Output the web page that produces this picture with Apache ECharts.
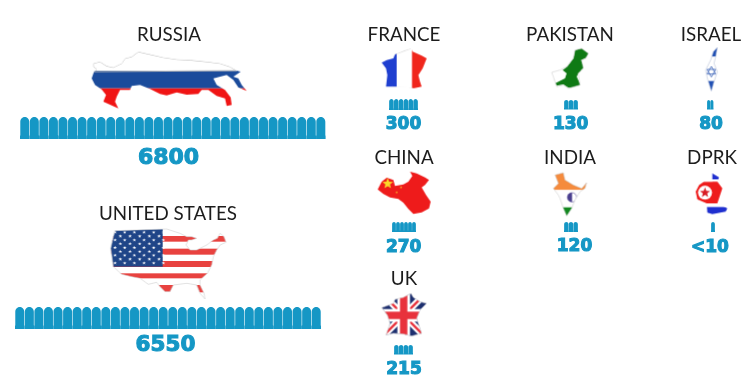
<!DOCTYPE html>
<html><head><meta charset="utf-8">
<style>html,body{margin:0;padding:0;background:#fff}#c{width:754px;height:391px}</style>
<script src="https://cdn.jsdelivr.net/npm/echarts@6/dist/echarts.min.js"></script>
</head><body><div id="c"></div>
<script>
var countries=['RUSSIA','UNITED STATES','FRANCE','CHINA','UK','PAKISTAN','INDIA','ISRAEL','DPRK'];
var warheadLabels=['6800','6550','300','270','215','130','120','80','<10'];
var iconCounts=[32,32,6,6,4,3,3,2,1];
var iconColor='#1597c5';
var rocket='path://M0,100 L0,88 L3,82 L3,22 C3,8 28,0 50,0 C72,0 97,8 97,22 L97,82 L100,88 L100,100 Z';

// layout: name centre, icon row box [x,y,w,h], number centre, number size
var layout=[
 {nx:169,ny:34.5,box:[20,117,305.6,22],vx:168.5,vy:158.5,vs:22},
 {nx:168,ny:213.5,box:[15,307,306,22],vx:165.5,vy:345,vs:21.5},
 {nx:404,ny:34.5,box:[389,99,29,11],vx:403.5,vy:125,vs:17},
 {nx:404,ny:157.5,box:[392,222,24,10],vx:403.7,vy:248,vs:17},
 {nx:404,ny:278.5,box:[394,345,19,9.5],vx:404,vy:370,vs:17},
 {nx:570,ny:34.5,box:[564,100,14,9.5],vx:570.7,vy:125,vs:17},
 {nx:570,ny:157.5,box:[564,222,14,10],vx:574.5,vy:246.5,vs:17},
 {nx:711,ny:34.5,box:[707,100,6.5,9.5],vx:711,vy:125,vs:17},
 {nx:712,ny:157.5,box:[711,222,4,10],vx:710,vy:248,vs:17}
];

// flag-in-outline artwork, traced in 3x crop units
function poly(c,p){c.beginPath();p.forEach(function(q,i){i?c.lineTo(q[0],q[1]):c.moveTo(q[0],q[1]);});c.closePath();}
function star(c,x,y,r,col,rot){c.beginPath();for(var i=0;i<10;i++){var a=-Math.PI/2+(rot||0)+i*Math.PI/5,R=i%2?r*0.42:r;c.lineTo(x+R*Math.cos(a),y+R*Math.sin(a));}c.closePath();c.fillStyle=col;c.fill();}
function bands(c,list){list.forEach(function(b){c.fillStyle=b[4];c.fillRect(b[0],b[1],b[2],b[3]);});}
function art(ox,oy,outline,paint,edge){
  var xs=outline.map(function(p){return p[0]}),ys=outline.map(function(p){return p[1]});
  var x0=Math.min.apply(0,xs)-6,y0=Math.min.apply(0,ys)-6,x1=Math.max.apply(0,xs)+6,y1=Math.max.apply(0,ys)+6;
  var w=Math.ceil((x1-x0)/3),h=Math.ceil((y1-y0)/3);
  var cv=document.createElement('canvas');cv.width=w;cv.height=h;
  var c=cv.getContext('2d');
  c.filter='blur(0.45px)';
  c.scale(1/3,1/3);c.translate(-x0,-y0);
  c.save();poly(c,outline);c.clip();paint(c,x0,y0,x1,y1);c.restore();
  if(edge){poly(c,outline);c.strokeStyle=edge;c.lineWidth=1.8;c.stroke();}
  return {type:'image',x:ox+x0/3,y:oy+y0/3,z:5,style:{image:cv,width:w,height:h}};
}
var maps=[
 art(0,10,[[280,160],[300,155],[320,168],[340,172],[365,160],[375,145],[395,140],[415,125],[445,132],[490,142],[530,148],[570,150],[620,155],[660,160],[690,170],[710,182],[722,185],[700,200],[715,205],[725,225],[740,243],[715,232],[700,210],[680,195],[640,205],[650,225],[675,240],[692,262],[695,285],[680,288],[675,265],[650,258],[625,240],[605,240],[595,252],[560,254],[530,247],[500,256],[480,252],[450,237],[420,225],[395,228],[390,240],[360,240],[350,260],[345,275],[355,295],[325,282],[310,275],[318,255],[305,238],[285,225],[275,205],[282,185],[290,178],[280,170]],
 function(c,x,y,X,Y){bands(c,[[x,y,X-x,182-y,'#fff'],[x,182,X-x,53,'#1b4b9b'],[x,235,X-x,Y-235,'#f01414']]);
   c.strokeStyle='#b9b9b9';c.lineWidth=3;poly(c,[[280,160],[300,155],[320,168],[340,172],[365,160],[375,145],[395,140],[415,125],[445,132],[490,142],[530,148],[570,150],[620,155],[660,160],[690,170],[710,182],[282,185],[290,178],[280,170]]);c.stroke();}),
 art(0,195,[[345,107],[500,102],[540,115],[560,125],[575,125],[590,130],[575,135],[565,135],[558,150],[570,165],[590,165],[620,150],[640,135],[652,130],[660,115],[672,125],[678,142],[660,150],[650,165],[640,185],[635,210],[622,235],[600,255],[600,270],[612,295],[615,312],[600,295],[590,270],[560,265],[520,270],[510,290],[495,290],[480,275],[470,262],[445,268],[420,250],[395,245],[365,238],[340,215],[335,180],[332,160],[340,125]],
 function(c,x,y,X,Y){c.fillStyle='#fff';c.fillRect(x,y,X-x,Y-y);c.fillStyle='#e8423f';
   [[123,17],[161,18],[198,18],[235,15],[270,22]].forEach(function(b){c.fillRect(x,b[0],X-x,b[1]);});
   c.fillStyle='#1f4588';c.fillRect(x,y,488-x,215-y);
   for(var r=0;r<9;r++){for(var i=0;i<(r%2?5:6);i++){star(c,(r%2?361:345)+i*29,112+r*11.5,5.5,'#fff');}}
 },'#cfcfcf'),
 art(350,15,[[95,143],[110,135],[130,130],[135,118],[160,107],[183,100],[188,110],[215,122],[230,130],[218,160],[205,180],[210,200],[215,215],[190,220],[165,215],[125,215],[108,215],[112,180],[108,160]],
 function(c,x,y,X,Y){bands(c,[[x,y,140-x,Y-y,'#1f3fd0'],[140,y,46,Y-y,'#fff'],[186,y,X-186,Y-y,'#f0261c']]);c.strokeStyle='#ccc';c.lineWidth=2;c.beginPath();c.moveTo(135,118);c.lineTo(183,100);c.moveTo(125,215);c.lineTo(190,220);c.stroke();}),
 art(350,140,[[83,148],[95,125],[110,113],[130,120],[135,138],[160,133],[175,125],[187,108],[180,95],[200,100],[225,112],[237,120],[225,135],[215,142],[228,165],[242,185],[237,205],[215,217],[190,222],[175,207],[160,188],[145,177],[120,172],[100,162]],
 function(c,x,y,X,Y){c.fillStyle='#ee1b1b';c.fillRect(x,y,X-x,Y-y);star(c,113,131,17,'#fbd92a');star(c,153,142,4,'#fbc02a');star(c,140,157,4,'#fbc02a');}),
 art(350,260,[[95,143],[130,130],[135,118],[160,112],[183,100],[190,112],[210,125],[230,130],[210,150],[200,175],[215,220],[185,228],[160,222],[130,220],[108,225],[120,190],[112,165]],
 function(c,x,y,X,Y){c.fillStyle='#1d2f6f';c.fillRect(x,y,X-x,Y-y);
   c.lineCap='butt';var cx=161,cy=166;
   function d(col,w){c.strokeStyle=col;c.lineWidth=w;c.beginPath();c.moveTo(cx-90,cy-90);c.lineTo(cx+90,cy+90);c.moveTo(cx+90,cy-90);c.lineTo(cx-90,cy+90);c.stroke();}
   d('#fff',20);d('#e8323c',7);
   c.fillStyle='#fff';c.fillRect(cx-19,y,38,Y-y);c.fillRect(x,cy-19,X-x,38);
   c.fillStyle='#e8323c';c.fillRect(cx-11,y,22,Y-y);c.fillRect(x,cy-11,X-x,22);
 },'#d8d8d8'),
 art(510,15,[[125,172],[150,165],[170,155],[190,130],[195,105],[215,100],[235,115],[228,130],[215,135],[220,160],[205,175],[210,210],[175,220],[160,210],[140,215],[130,185]],
 function(c,x,y,X,Y){c.fillStyle='#fff';c.fillRect(x,y,X-x,Y-y);c.fillStyle='#0f7a14';
   poly(c,[[158,165],[172,155],[190,130],[195,105],[215,100],[238,115],[225,130],[213,135],[222,158],[205,175],[200,185],[212,212],[200,222],[175,218],[160,208],[140,212],[135,205],[165,190],[170,175]]);c.fill();
   star(c,218,165,6,'#fff');},'#cfcfcf'),
 art(510,140,[[135,105],[160,98],[165,120],[190,135],[215,145],[230,128],[225,145],[210,155],[195,180],[185,205],[170,228],[160,205],[150,175],[145,165],[130,145],[145,130]],
 function(c,x,y,X,Y){bands(c,[[x,y,X-x,150-y,'#f58b3d'],[x,150,X-x,52,'#fff'],[x,202,X-x,Y-202,'#12881f']]);
   c.fillStyle='#4a3f8f';c.beginPath();c.arc(186,172,14,Math.PI*0.5,Math.PI*1.5);c.fill();
   c.strokeStyle='#4a3f8f';c.lineWidth=1.6;c.beginPath();c.arc(186,172,14,0,Math.PI*2);c.stroke();},'#cfcfcf'),
 art(654,15,[[178,110],[190,97],[185,125],[180,145],[190,170],[180,200],[172,228],[160,190],[155,165],[170,135]],
 function(c,x,y,X,Y){bands(c,[[x,y,X-x,125-y,'#2050b4'],[x,125,X-x,73,'#fff'],[x,198,X-x,Y-198,'#2050b4']]);
   c.strokeStyle='#3a62b8';c.lineWidth=2.4;
   poly(c,[[172,154],[185,177],[159,177]]);c.stroke();poly(c,[[172,186],[185,163],[159,163]]);c.stroke();},'#b8c2d8'),
 art(654,140,[[175,100],[195,112],[190,125],[205,145],[195,175],[190,190],[220,205],[215,215],[175,222],[160,218],[158,190],[130,178],[125,155],[135,135],[150,125],[175,125]],
 function(c,x,y,X,Y){bands(c,[[x,y,X-x,118-y,'#1f2fcf'],[x,118,X-x,7,'#fff'],[x,125,X-x,65,'#ee1c1c'],[x,190,X-x,11,'#fff'],[x,201,X-x,Y-201,'#1f2fcf']]);
   c.fillStyle='#fff';c.beginPath();c.arc(153,158,21,0,Math.PI*2);c.fill();star(c,153,158,16,'#d81c24');})
];

var grids=[],xAxes=[],yAxes=[],series=[],texts=[];
countries.forEach(function(name,i){
  var L=layout[i],b=L.box;
  grids.push({left:b[0],top:b[1],width:b[2],height:b[3],containLabel:false});
  xAxes.push({type:'value',gridIndex:i,min:0,max:iconCounts[i],show:false});
  yAxes.push({type:'category',gridIndex:i,data:[name],show:false});
  series.push({type:'pictorialBar',name:name,xAxisIndex:i,yAxisIndex:i,data:[iconCounts[i]],
    symbol:rocket,symbolRepeat:iconCounts[i],symbolMargin:0,symbolSize:[b[2]/iconCounts[i],b[3]],
    symbolPosition:'start',barCategoryGap:0,animation:false,silent:true,itemStyle:{color:iconColor}});
  texts.push({type:'text',x:L.nx,y:L.ny,z:6,style:{text:name,fill:'#1c1c1c',font:'400 18.8px Lato',textAlign:'center',textVerticalAlign:'middle',align:'center',verticalAlign:'middle'}});
  texts.push({type:'text',x:L.vx,y:L.vy,z:6,style:{text:warheadLabels[i],fill:iconColor,font:'700 '+L.vs+'px "DejaVu Sans"',stroke:iconColor,lineWidth:1.1,textAlign:'center',textVerticalAlign:'middle',align:'center',verticalAlign:'middle'}});
});
var chart=echarts.init(document.getElementById('c'),null,{renderer:'canvas'});
chart.setOption({backgroundColor:'#fff',animation:false,grid:grids,xAxis:xAxes,yAxis:yAxes,series:series,graphic:{elements:maps.concat(texts)}});
</script></body></html>
